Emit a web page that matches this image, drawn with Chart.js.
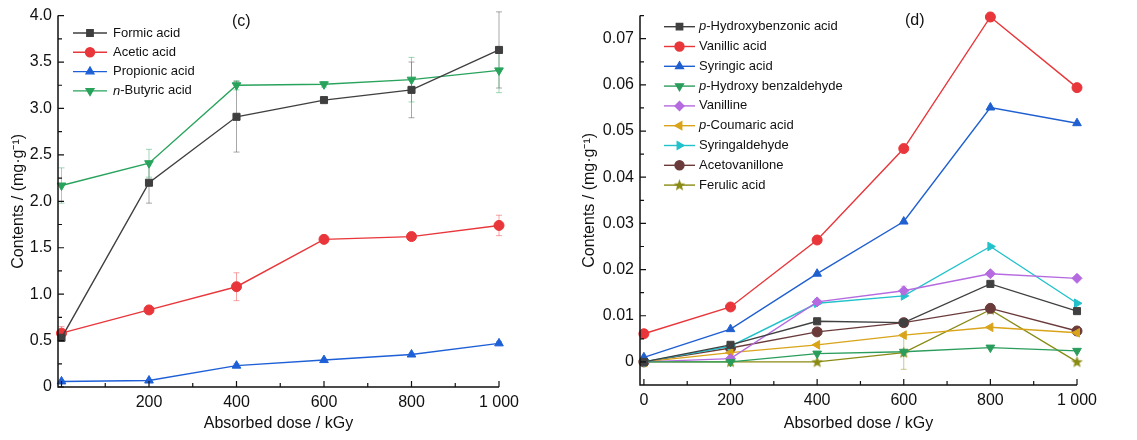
<!DOCTYPE html>
<html>
<head>
<meta charset="utf-8">
<script src="https://cdn.jsdelivr.net/npm/chart.js@4.4.1/dist/chart.umd.min.js"></script>
<style>
  body { margin: 0; background: #fff; width: 1137px; height: 440px; overflow: hidden; position: relative; }
  .box { position: absolute; top: 0; height: 440px; }
  #boxC { left: 0; width: 560px; }
  #boxD { left: 570px; width: 567px; }
</style>
</head>
<body>
<div class="box" id="boxC"><canvas id="chartC"></canvas></div>
<div class="box" id="boxD"><canvas id="chartD"></canvas></div>
<script>
// ---- data ----
const doses = [0, 200, 400, 600, 800, 1000];

// (c) small organic acids, mg/g
const formic = [0.53, 2.20, 2.91, 3.09, 3.20, 3.63];
const formicErr = [0.04, 0.22, 0.38, 0.02, 0.30, 0.41];
const acetic = [0.58, 0.83, 1.08, 1.59, 1.62, 1.74];
const aceticErr = [0.07, 0.02, 0.15, 0.02, 0.02, 0.11];
const propionic = [0.06, 0.07, 0.23, 0.29, 0.35, 0.47];
const propionicErr = [0.01, 0.01, 0.02, 0.01, 0.01, 0.02];
const butyric = [2.17, 2.41, 3.25, 3.26, 3.31, 3.41];
const butyricErr = [0.19, 0.15, 0.05, 0.03, 0.24, 0.24];

// (d) phenolic compounds, mg/g
const hydroxybenzoic = [0, 0.0037, 0.0088, 0.0085, 0.0169, 0.0110];
const vanillic = [0.0061, 0.0119, 0.0264, 0.0462, 0.0747, 0.0594];
const syringic = [0.0010, 0.0071, 0.0191, 0.0304, 0.0551, 0.0517];
const hydroxybenzaldehyde = [0, 0, 0.0018, 0.0022, 0.0031, 0.0024];
const vanilline = [0, 0.0007, 0.0130, 0.0154, 0.0191, 0.0181];
const coumaric = [0, 0.0020, 0.0037, 0.0058, 0.0075, 0.0063];
const syringaldehyde = [0, 0.0034, 0.0127, 0.0143, 0.0250, 0.0127];
const acetovanillone = [0, 0.0030, 0.0065, 0.0085, 0.0116, 0.0067];
const ferulic = [0, 0, 0, 0.0020, 0.0113, 0];
const vanillicErr = [0.0003, 0.0005, 0.0003, 0.0003, 0.0010, 0.0003];
const vanillineErr = [0, 0.0005, 0.0005, 0.0010, 0.0005, 0.0003];
const ferulicErr = [0, 0, 0, 0.0036, 0.0005, 0];

// tick labels
const xTicksC = ["", "200", "400", "600", "800", "1 000"];
const xTicksD = ["0", "200", "400", "600", "800", "1 000"];
const yTicksC = [0, 0.5, 1.0, 1.5, 2.0, 2.5, 3.0, 3.5, 4.0];
const yLabelsC = ["0", "0.5", "1.0", "1.5", "2.0", "2.5", "3.0", "3.5", "4.0"];
const yTicksD = [0, 0.01, 0.02, 0.03, 0.04, 0.05, 0.06, 0.07];
const yLabelsD = ["0", "0.01", "0.02", "0.03", "0.04", "0.05", "0.06", "0.07"];

const FONT = '"Liberation Sans", Arial, sans-serif';

// filled star for the ferulic acid marker
function starImage(color) {
  const c = document.createElement("canvas");
  c.width = 13; c.height = 13;
  const g = c.getContext("2d");
  g.fillStyle = color;
  g.beginPath();
  for (let i = 0; i < 10; i++) {
    const r = i % 2 ? 2.6 : 6.2;
    const a = -Math.PI / 2 + i * Math.PI / 5;
    g.lineTo(6.5 + r * Math.cos(a), 6.8 + r * Math.sin(a));
  }
  g.closePath();
  g.fill();
  return c;
}

function fade(hex, a) {
  const n = parseInt(hex.slice(1), 16);
  return `rgba(${n >> 16},${(n >> 8) & 255},${n & 255},${a})`;
}

function series(label, values, color, style, rotation, err) {
  return {
    label,
    data: doses.map((x, i) => ({ x, y: values[i] })),
    err: err || null,
    borderColor: color,
    backgroundColor: color,
    pointBackgroundColor: color,
    pointBorderColor: color,
    pointStyle: style,
    pointRotation: rotation || 0,
    pointRadius: 5,
    pointBorderWidth: 1,
    borderWidth: 1.4,
    tension: 0,
    clip: false,
  };
}

// ---- plugins ----
const errorBars = {
  id: "errorBars",
  beforeDatasetsDraw(chart) {
    const { ctx, scales: { x, y } } = chart;
    ctx.save();
    ctx.lineWidth = 1;
    chart.data.datasets.forEach(ds => {
      if (!ds.err) return;
      ctx.strokeStyle = fade(ds.borderColor, 0.45);
      ds.data.forEach((p, i) => {
        const e = ds.err[i];
        if (!e) return;
        const px = x.getPixelForValue(p.x);
        const y1 = y.getPixelForValue(p.y + e);
        const y2 = y.getPixelForValue(p.y - e);
        ctx.beginPath();
        ctx.moveTo(px, y1); ctx.lineTo(px, y2);
        ctx.moveTo(px - 3, y1); ctx.lineTo(px + 3, y1);
        ctx.moveTo(px - 3, y2); ctx.lineTo(px + 3, y2);
        ctx.stroke();
      });
    });
    ctx.restore();
  },
};

// left + bottom axis lines with inward ticks (major and minor)
const frame = {
  id: "frame",
  afterDraw(chart, args, opts) {
    const { ctx, chartArea: a, scales: { x, y } } = chart;
    ctx.save();
    ctx.strokeStyle = "#111";
    ctx.lineWidth = 1.5;
    ctx.beginPath();
    ctx.moveTo(a.left, a.top); ctx.lineTo(a.left, a.bottom); ctx.lineTo(a.right, a.bottom);
    ctx.stroke();
    ctx.lineWidth = 1.2;
    ctx.beginPath();
    const xs = opts.xStep, ys = opts.yStep;
    for (let k = 0; k * xs / 2 <= x.max + 1e-9; k++) {
      const px = x.getPixelForValue(k * xs / 2);
      const len = k % 2 === 0 ? 6 : 4;
      ctx.moveTo(px, a.bottom); ctx.lineTo(px, a.bottom - len);
    }
    for (let k = 0; k * ys / 2 <= y.max + 1e-9; k++) {
      const py = y.getPixelForValue(k * ys / 2);
      const len = k % 2 === 0 ? 6 : 4;
      ctx.moveTo(a.left, py); ctx.lineTo(a.left + len, py);
    }
    ctx.stroke();
    ctx.restore();
  },
};

const boxLegend = {
  id: "boxLegend",
  afterDraw(chart, args, opts) {
    const { ctx } = chart;
    ctx.save();
    ctx.textBaseline = "middle";
    chart.data.datasets.forEach((ds, i) => {
      const yy = opts.y + i * opts.row;
      ctx.strokeStyle = ds.borderColor;
      ctx.lineWidth = 1.4;
      ctx.beginPath();
      ctx.moveTo(opts.x, yy); ctx.lineTo(opts.x + opts.len, yy);
      ctx.stroke();
      ctx.fillStyle = ds.backgroundColor;
      Chart.helpers.drawPoint(ctx, {
        pointStyle: ds.pointStyle, rotation: ds.pointRotation, radius: 4.5, borderWidth: 1,
      }, opts.x + opts.len / 2, yy);
      let tx = opts.x + opts.len + opts.gap;
      ctx.fillStyle = "#111";
      const m = ds.label.match(/^([pn])(-.*)$/);
      if (m) {
        ctx.font = `italic 13px ${FONT}`;
        ctx.fillText(m[1], tx, yy);
        tx += ctx.measureText(m[1]).width;
        ctx.font = `13px ${FONT}`;
        ctx.fillText(m[2], tx, yy);
      } else {
        ctx.font = `13px ${FONT}`;
        ctx.fillText(ds.label, tx, yy);
      }
    });
    ctx.font = `16px ${FONT}`;
    ctx.fillStyle = "#111";
    ctx.fillText(opts.panel, opts.panelX, opts.panelY);
    ctx.restore();
  },
};

function makeChart(canvas, datasets, cfg) {
  return new Chart(canvas, {
    type: "line",
    data: { datasets },
    plugins: [errorBars, frame, boxLegend],
    options: {
      responsive: true,
      maintainAspectRatio: false,
      animation: false,
      layout: { padding: cfg.padding },
      plugins: {
        legend: { display: false },
        tooltip: { enabled: false },
        frame: { xStep: 200, yStep: cfg.yStep },
        boxLegend: cfg.legend,
      },
      scales: {
        x: {
          type: "linear",
          min: cfg.xMin, max: 1000,
          grid: { display: false, drawTicks: false },
          border: { display: false },
          afterBuildTicks: s => { s.ticks = doses.map(v => ({ value: v })); },
          afterFit: s => { s.height = cfg.xHeight; },
          ticks: {
            autoSkip: false, maxRotation: 0, padding: 6, color: "#111",
            font: { family: FONT, size: 16 },
            callback: (v, i) => cfg.xLabels[i],
          },
          title: {
            display: true, text: "Absorbed dose / kGy", color: "#111",
            font: { family: FONT, size: 16 }, padding: { top: 0, bottom: 7 },
          },
        },
        y: {
          min: cfg.yMin, max: cfg.yMax,
          grid: { display: false, drawTicks: false },
          border: { display: false },
          afterBuildTicks: s => { s.ticks = cfg.yTicks.map(v => ({ value: v })); },
          afterFit: s => { s.width = cfg.yWidth; },
          ticks: {
            autoSkip: false, padding: 6, color: "#111",
            font: { family: FONT, size: 16 },
            callback: (v, i) => cfg.yLabels[i],
          },
          title: {
            display: true, text: "Contents / (mg·g⁻¹)", color: "#111",
            font: { family: FONT, size: 16 }, padding: { top: 0, bottom: 0 },
          },
        },
      },
    },
  });
}

makeChart(document.getElementById("chartC"), [
  series("Formic acid", formic, "#3f3f3f", "rect", 0, formicErr),
  series("Acetic acid", acetic, "#e8363a", "circle", 0, aceticErr),
  series("Propionic acid", propionic, "#1d5fd6", "triangle", 0, propionicErr),
  series("n-Butyric acid", butyric, "#28a35c", "triangle", 180, butyricErr),
], {
  padding: { left: 9, right: 61, top: 15, bottom: 0 },
  xMin: -8, yMin: 0, yMax: 4.0, yStep: 0.5,
  xHeight: 53, yWidth: 49, xLabels: xTicksC, yTicks: yTicksC, yLabels: yLabelsC,
  legend: { x: 73, y: 33, row: 19.3, len: 34, gap: 6, panel: "(c)", panelX: 232, panelY: 22 },
});

makeChart(document.getElementById("chartD"), [
  series("p-Hydroxybenzonic acid", hydroxybenzoic, "#404040", "rect"),
  series("Vanillic acid", vanillic, "#e8363a", "circle", 0, vanillicErr),
  series("Syringic acid", syringic, "#1f5fd0", "triangle"),
  series("p-Hydroxy benzaldehyde", hydroxybenzaldehyde, "#2a9d5c", "triangle", 180),
  series("Vanilline", vanilline, "#b56ae0", "rectRot", 0, vanillineErr),
  series("p-Coumaric acid", coumaric, "#d9a41a", "triangle", -90),
  series("Syringaldehyde", syringaldehyde, "#22c2cc", "triangle", 90),
  series("Acetovanillone", acetovanillone, "#6b3b3b", "circle"),
  series("Ferulic acid", ferulic, "#8a8a14", starImage("#8a8a14"), 0, ferulicErr),
], {
  padding: { left: 10, right: 60, top: 15, bottom: 0 },
  xMin: -9, yMin: -0.005, yMax: 0.075, yStep: 0.01,
  xHeight: 55, yWidth: 60, xLabels: xTicksD, yTicks: yTicksD, yLabels: yLabelsD,
  legend: { x: 94, y: 26.7, row: 19.8, len: 31, gap: 4, panel: "(d)", panelX: 335, panelY: 21 },
});
</script>
</body>
</html>
